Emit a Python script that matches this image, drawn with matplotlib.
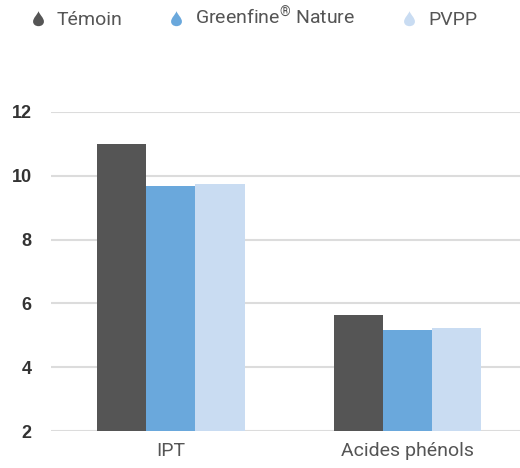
import matplotlib
matplotlib.use("Agg")
import matplotlib.pyplot as plt
import numpy as np
from matplotlib.path import Path
from matplotlib.lines import Line2D

categories = ["IPT", "Acides phénols"]
series_names = ["Témoin", "Greenfine$^{®}$ Nature", "PVPP"]
temoin = [11.0, 5.65]
greenfine = [9.68, 5.18]
pvpp = [9.75, 5.24]
yticks = [2, 4, 6, 8, 10, 12]

colors = ["#555555", "#6aa8dc", "#c9dcf2"]

plt.rcParams['font.family'] = ['Roboto', 'DejaVu Sans']
plt.rcParams['mathtext.fontset'] = 'custom'
plt.rcParams['mathtext.rm'] = 'Roboto'
plt.rcParams['mathtext.it'] = 'Roboto'

fig = plt.figure(figsize=(5.2, 4.68), dpi=100)
ax = fig.add_axes([51/520, (468-431)/468, 469/520, 319/468])

x = np.arange(len(categories))
w = 0.207
for i, (vals, c) in enumerate(zip([temoin, greenfine, pvpp], colors)):
    ax.bar(x + (i - 1) * w, np.array(vals) - 2, width=w, bottom=2, color=c, zorder=3, linewidth=0)

ax.set_ylim(2, 12)
ax.set_xlim(-0.506, 1.473)
ax.set_yticks(yticks)
ax.set_yticklabels([str(t) for t in yticks], fontsize=13, fontweight='bold', color='#333333',
                   family=['Liberation Sans', 'DejaVu Sans'])
ax.set_xticks(x)
ax.set_xticklabels(categories, fontsize=14, color='#555555')
ax.tick_params(axis='y', length=0, pad=14)
ax.tick_params(axis='x', length=0, pad=8)
ax.grid(axis='y', color='#dcdcdc', linewidth=1.5, zorder=0)
for s in ax.spines.values():
    s.set_visible(False)

# teardrop marker
verts = [(0, 1), (0.15, 0.55), (0.65, 0.2), (0.65, -0.25),
         (0.65, -0.6), (0.35, -0.8), (0, -0.8),
         (-0.35, -0.8), (-0.65, -0.6), (-0.65, -0.25),
         (-0.65, 0.2), (-0.15, 0.55), (0, 1), (0, 1)]
codes = [Path.MOVETO] + [Path.CURVE4] * 12 + [Path.CLOSEPOLY]
drop = Path(verts, codes)

handles = [Line2D([], [], linestyle='none', marker=drop, markersize=12,
                  markerfacecolor=c, markeredgewidth=0) for c in colors]
leg = fig.legend(handles, series_names, loc='center left', bbox_to_anchor=(0.02, 0.962),
                 ncol=3, frameon=False, fontsize=14, handlelength=1.0, handletextpad=0.45,
                 columnspacing=2.3, labelcolor='#555555')

fig.savefig("out.png", dpi=100)
